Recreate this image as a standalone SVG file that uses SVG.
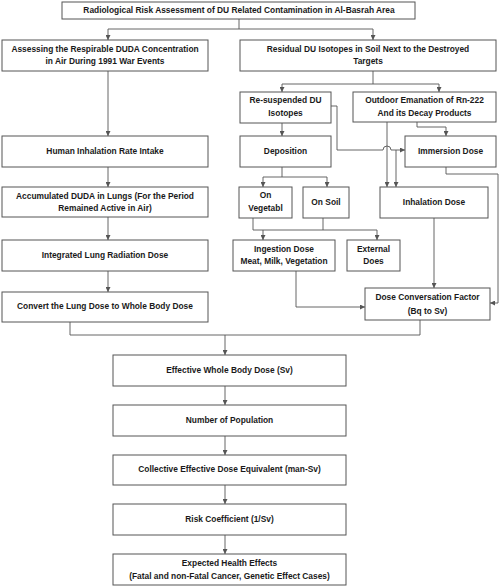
<svg xmlns="http://www.w3.org/2000/svg" width="500" height="588" viewBox="0 0 500 588">
<style>
rect.b{fill:#fff;stroke:#555;stroke-width:1}
text{font-family:"Liberation Sans",Arial,sans-serif;font-weight:bold;font-size:8.4px;fill:#1a1a1a;text-anchor:middle;dominant-baseline:middle}
.c path{fill:none;stroke:#555;stroke-width:0.9}
</style>
<defs>
<marker id="a" viewBox="0 0 6 6" refX="6" refY="3" markerWidth="5" markerHeight="5" orient="auto" markerUnits="userSpaceOnUse"><path d="M0,0 L6,3 L0,6 z" fill="#555"/></marker>
</defs>
<rect width="500" height="588" fill="#fff"/>
<g class="c">
<path d="M239,19 V29"/>
<path d="M108,29 H373"/>
<path d="M108,29 V40" marker-end="url(#a)"/>
<path d="M373,29 V40" marker-end="url(#a)"/>
<path d="M108,71 V136" marker-end="url(#a)"/>
<path d="M108,167 V187" marker-end="url(#a)"/>
<path d="M108,217 V240" marker-end="url(#a)"/>
<path d="M108,271 V292" marker-end="url(#a)"/>
<path d="M70,322 V335 H420 V320"/>
<path d="M225,335 V355" marker-end="url(#a)"/>
<path d="M225,386 V405" marker-end="url(#a)"/>
<path d="M225,436 V455" marker-end="url(#a)"/>
<path d="M225,485 V504" marker-end="url(#a)"/>
<path d="M225,535 V554" marker-end="url(#a)"/>
<path d="M373,71 V84"/>
<path d="M282,84 H439"/>
<path d="M282,84 V92" marker-end="url(#a)"/>
<path d="M439,84 V92" marker-end="url(#a)"/>
<path d="M282,123 V136" marker-end="url(#a)"/>
<path d="M331,106 H337 V150 H383 A4,4 0 0 1 391,150 H405" marker-end="url(#a)"/>
<path d="M396,150 V187" marker-end="url(#a)"/>
<path d="M387,122 V187" marker-end="url(#a)"/>
<path d="M417,122 V127 H446 V136" marker-end="url(#a)"/>
<path d="M446,167 V174 H498 V303 H490" marker-end="url(#a)"/>
<path d="M282,167 V177"/>
<path d="M263,177 H327"/>
<path d="M263,177 V187" marker-end="url(#a)"/>
<path d="M327,177 V187" marker-end="url(#a)"/>
<path d="M253,218 V230 M323,218 V230 M253,230 H377"/>
<path d="M263,230 V240" marker-end="url(#a)"/>
<path d="M377,230 V240" marker-end="url(#a)"/>
<path d="M434,218 V288" marker-end="url(#a)"/>
<path d="M296,271 V307 H365" marker-end="url(#a)"/>
</g>
<g id="n-title"><rect class="b" x="62" y="2" width="353" height="17"/><text x="239" y="11">Radiological Risk Assessment of DU Related Contamination in Al-Basrah Area</text></g>
<g id="n-assess"><rect class="b" x="2" y="40" width="206" height="31"/><text x="105" y="49.5">Assessing the Respirable DUDA Concentration</text><text x="105" y="62">in Air During 1991 War Events</text></g>
<g id="n-residual"><rect class="b" x="240" y="40" width="256" height="31"/><text x="368" y="49.5">Residual DU Isotopes in Soil Next to the Destroyed</text><text x="368" y="62">Targets</text></g>
<g id="n-human"><rect class="b" x="2" y="136" width="206" height="31"/><text x="105" y="151.5">Human Inhalation Rate Intake</text></g>
<g id="n-accum"><rect class="b" x="2" y="187" width="206" height="30"/><text x="105" y="196.5">Accumulated DUDA in Lungs (For the Period</text><text x="105" y="209">Remained Active in Air)</text></g>
<g id="n-integ"><rect class="b" x="2" y="240" width="206" height="31"/><text x="105" y="255.5">Integrated Lung Radiation Dose</text></g>
<g id="n-convert"><rect class="b" x="2" y="292" width="206" height="30"/><text x="105" y="307">Convert the Lung Dose to Whole Body Dose</text></g>
<g id="n-resusp"><rect class="b" x="240" y="92" width="91" height="31"/><text x="285.5" y="101">Re-suspended DU</text><text x="285.5" y="114">Isotopes</text></g>
<g id="n-outdoor"><rect class="b" x="353" y="92" width="143" height="30"/><text x="424.5" y="101">Outdoor Emanation of Rn-222</text><text x="424.5" y="114">And its Decay Products</text></g>
<g id="n-depos"><rect class="b" x="240" y="136" width="91" height="31"/><text x="285.5" y="151.5">Deposition</text></g>
<g id="n-immers"><rect class="b" x="405" y="136" width="91" height="31"/><text x="450.5" y="151.5">Immersion Dose</text></g>
<g id="n-veg"><rect class="b" x="239" y="187" width="53" height="31"/><text x="265.5" y="196">On</text><text x="265.5" y="209">Vegetabl</text></g>
<g id="n-soil"><rect class="b" x="303" y="187" width="46" height="31"/><text x="326" y="203">On Soil</text></g>
<g id="n-inhal"><rect class="b" x="380" y="187" width="108" height="31"/><text x="434" y="203">Inhalation Dose</text></g>
<g id="n-ingest"><rect class="b" x="233" y="240" width="102" height="31"/><text x="284" y="249.5">Ingestion Dose</text><text x="284" y="262">Meat, Milk, Vegetation</text></g>
<g id="n-extern"><rect class="b" x="347" y="240" width="53" height="31"/><text x="373.5" y="249.5">External</text><text x="373.5" y="262">Does</text></g>
<g id="n-dcf"><rect class="b" x="365" y="288" width="125" height="32"/><text x="427.5" y="298">Dose Conversation Factor</text><text x="427.5" y="312">(Bq to Sv)</text></g>
<g id="n-eff"><rect class="b" x="113" y="355" width="233" height="31"/><text x="229.5" y="371">Effective Whole Body Dose (Sv)</text></g>
<g id="n-pop"><rect class="b" x="113" y="405" width="233" height="31"/><text x="229.5" y="420.5">Number of Population</text></g>
<g id="n-coll"><rect class="b" x="113" y="455" width="233" height="30"/><text x="229.5" y="470">Collective Effective Dose Equivalent (man-Sv)</text></g>
<g id="n-risk"><rect class="b" x="113" y="504" width="233" height="31"/><text x="229.5" y="519.5">Risk Coefficient (1/Sv)</text></g>
<g id="n-exp"><rect class="b" x="113" y="554" width="233" height="31"/><text x="229.5" y="563.5">Expected Health Effects</text><text x="229.5" y="577">(Fatal and non-Fatal Cancer, Genetic Effect Cases)</text></g>
</svg>
